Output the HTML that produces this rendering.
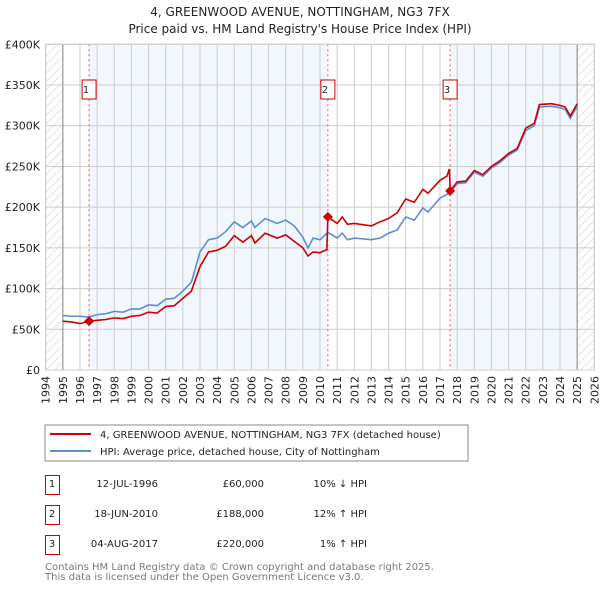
<!DOCTYPE html>
<html><head><meta charset="utf-8"><style>
body{margin:0;background:#fff;font-family:"DejaVu Sans","Liberation Sans",sans-serif;}
svg text{font-family:"DejaVu Sans","Liberation Sans",sans-serif;}
</style></head><body>
<svg id="chart" width="600" height="590" viewBox="0 0 600 590" xmlns="http://www.w3.org/2000/svg">
<defs>
<pattern id="hatch" width="6" height="6" patternUnits="userSpaceOnUse" patternTransform="rotate(45)">
<line x1="0" y1="0" x2="0" y2="6" stroke="#ccc" stroke-width="1"/></pattern>
</defs>
<text x="300" y="16" text-anchor="middle" font-size="12" fill="#222">4, GREENWOOD AVENUE, NOTTINGHAM, NG3 7FX</text>
<text x="300" y="33" text-anchor="middle" font-size="12" fill="#222">Price paid vs. HM Land Registry's House Price Index (HPI)</text>
<g id="plot"></g>
<rect x="45" y="425" width="423" height="36" fill="#fff" stroke="#888"/>
<line x1="50" y1="434" x2="91" y2="434" stroke="#cc0000" stroke-width="2"/>
<text x="100" y="438" font-size="10" fill="#222">4, GREENWOOD AVENUE, NOTTINGHAM, NG3 7FX (detached house)</text>
<line x1="50" y1="451" x2="91" y2="451" stroke="#5b8fd0" stroke-width="2"/>
<text x="100" y="455" font-size="10" fill="#222">HPI: Average price, detached house, City of Nottingham</text>
<g font-size="10" fill="#222">
<rect x="45.5" y="475.5" width="14" height="19" fill="#fff" stroke="#cc0000"/><text x="52" y="487" text-anchor="middle">1</text>
<text x="158" y="487" text-anchor="end">12-JUL-1996</text><text x="264" y="487" text-anchor="end">£60,000</text><text x="367" y="487" text-anchor="end">10% ↓ HPI</text>
<rect x="45.5" y="505.5" width="14" height="19" fill="#fff" stroke="#cc0000"/><text x="52" y="517" text-anchor="middle">2</text>
<text x="158" y="517" text-anchor="end">18-JUN-2010</text><text x="264" y="517" text-anchor="end">£188,000</text><text x="367" y="517" text-anchor="end">12% ↑ HPI</text>
<rect x="45.5" y="535.5" width="14" height="19" fill="#fff" stroke="#cc0000"/><text x="52" y="547" text-anchor="middle">3</text>
<text x="158" y="547" text-anchor="end">04-AUG-2017</text><text x="264" y="547" text-anchor="end">£220,000</text><text x="367" y="547" text-anchor="end">1% ↑ HPI</text>
</g>
<text x="45" y="570" font-size="10" fill="#777">Contains HM Land Registry data © Crown copyright and database right 2025.</text>
<text x="45" y="580" font-size="10" fill="#777">This data is licensed under the Open Government Licence v3.0.</text>
</svg>
<script>
const yTicks=[0,50,100,150,200,250,300,350,400];
const yTickLabels=["£0","£50K","£100K","£150K","£200K","£250K","£300K","£350K","£400K"];
const years=[1994,1995,1996,1997,1998,1999,2000,2001,2002,2003,2004,2005,2006,2007,2008,2009,2010,2011,2012,2013,2014,2015,2016,2017,2018,2019,2020,2021,2022,2023,2024,2025,2026];
const hpiT=[1995,1995.5,1996,1996.5,1997,1997.5,1998,1998.5,1999,1999.5,2000,2000.5,2001,2001.5,2002,2002.5,2003,2003.5,2004,2004.5,2005,2005.5,2006,2006.2,2006.8,2007.5,2008,2008.5,2009,2009.3,2009.6,2010,2010.46,2011,2011.3,2011.6,2012,2013,2013.5,2014,2014.5,2015,2015.5,2016,2016.3,2017,2017.6,2018,2018.5,2019,2019.5,2020,2020.5,2021,2021.5,2022,2022.5,2022.8,2023.5,2024,2024.3,2024.6,2025];
const hpiV=[67,66,66,65,68,69,72,71,75,75,80,79,87,88,97,108,145,160,162,170,182,175,183,175,186,180,184,177,163,150,162,160,169,162,168,160,162,160,162,168,172,188,184,199,194,211,218,229,230,243,238,248,255,264,270,294,300,323,324,322,320,309,324];
const priceT=[1995,1995.5,1996,1996.53,1997,1997.5,1998,1998.5,1999,1999.5,2000,2000.5,2001,2001.5,2002,2002.5,2003,2003.5,2004,2004.5,2005,2005.5,2006,2006.2,2006.8,2007.5,2008,2008.5,2009,2009.3,2009.6,2010,2010.4,2010.46,2011,2011.3,2011.6,2012,2013,2013.5,2014,2014.5,2015,2015.5,2016,2016.3,2017,2017.4,2017.55,2017.59,2018,2018.5,2019,2019.5,2020,2020.5,2021,2021.5,2022,2022.5,2022.8,2023.5,2024,2024.3,2024.6,2025];
const priceV=[60,59,57,60,61,62,64,63,66,67,71,70,78,79,88,97,127,145,147,152,165,157,165,156,168,162,166,158,150,140,145,144,148,188,180,188,179,180,177,182,186,193,210,206,222,217,233,238,247,220,231,232,245,240,250,257,266,272,297,303,326,327,325,323,312,327];
const saleT=[1996.53,2010.46,2017.59];
const saleV=[60,188,220];
const saleLabels=["1","2","3"];
const X0=45.7,X1=594.3,Y0=370,Y1=44.3;
const xs=t=>X0+(t-1994)/(2026-1994)*(X1-X0);
const ys=v=>Y0-(v/400)*(Y0-Y1);
const NS="http://www.w3.org/2000/svg";
const g=document.getElementById('plot');
function mk(tag,attrs,parent){const e=document.createElementNS(NS,tag);for(const k in attrs)e.setAttribute(k,attrs[k]);(parent||g).appendChild(e);return e;}
// shading
let r=mk('rect',{x:xs(1994),y:Y1,width:xs(1995)-xs(1994),height:Y0-Y1,fill:'url(#hatch)'});


r=mk('rect',{x:xs(2025),y:Y1,width:xs(2026)-xs(2025),height:Y0-Y1,fill:'url(#hatch)'});


r=mk('rect',{x:xs(saleT[0]),y:Y1,width:xs(saleT[1])-xs(saleT[0]),height:Y0-Y1,fill:'#f2f6fd'});


r=mk('rect',{x:xs(saleT[2]),y:Y1,width:xs(2025)-xs(saleT[2]),height:Y0-Y1,fill:'#f2f6fd'});


// grid
years.forEach(y=>{const l=mk('line',{x1:xs(y),x2:xs(y),y1:Y1,y2:Y0,stroke:'#ccc','stroke-width':1});


const t=mk('text',{x:0,y:0,'font-size':11,fill:'#222','text-anchor':'end',transform:`translate(${xs(y)+4},${Y0+6}) rotate(-90)`});t.textContent=y;

});
yTicks.forEach((v,i)=>{const l=mk('line',{x1:X0,x2:X1,y1:ys(v),y2:ys(v),stroke:'#ccc','stroke-width':1});


const t=mk('text',{x:40,y:ys(v)+4,'font-size':11,fill:'#222','text-anchor':'end'});t.textContent=yTickLabels[i];

});
[1995,2025].forEach(y=>{const l=mk('line',{x1:xs(y),x2:xs(y),y1:Y1,y2:Y0,stroke:'#999','stroke-width':1.2});

});
// sale markers lines
saleT.forEach((t,i)=>{const l=mk('line',{x1:xs(t),x2:xs(t),y1:Y1,y2:Y0,stroke:'#e55','stroke-width':1,'stroke-dasharray':'2,3'});


const b=mk('rect',{x:xs(t)-7,y:80,width:14,height:19,fill:'#fff',stroke:'#cc0000'});


const tx=mk('text',{x:xs(t)-3,y:93,'font-size':10,fill:'#222','text-anchor':'middle'});tx.textContent=saleLabels[i];

});
// lines
const hp=mk('polyline',{points:hpiT.map((t,i)=>xs(t)+','+ys(hpiV[i])).join(' '),fill:'none',stroke:'#5b8fd0','stroke-width':1.6});


const pp=mk('polyline',{points:priceT.map((t,i)=>xs(t)+','+ys(priceV[i])).join(' '),fill:'none',stroke:'#cc0000','stroke-width':1.6});


saleT.forEach((t,i)=>{const x=xs(t),y=ys(saleV[i]);const d=mk('polygon',{points:`${x},${y-5} ${x+5},${y} ${x},${y+5} ${x-5},${y}`,fill:'#cc0000'});

});
const bd=mk('rect',{x:X0,y:Y1,width:X1-X0,height:Y0-Y1,fill:'none',stroke:'#ccc'});


</script>
</body></html>
